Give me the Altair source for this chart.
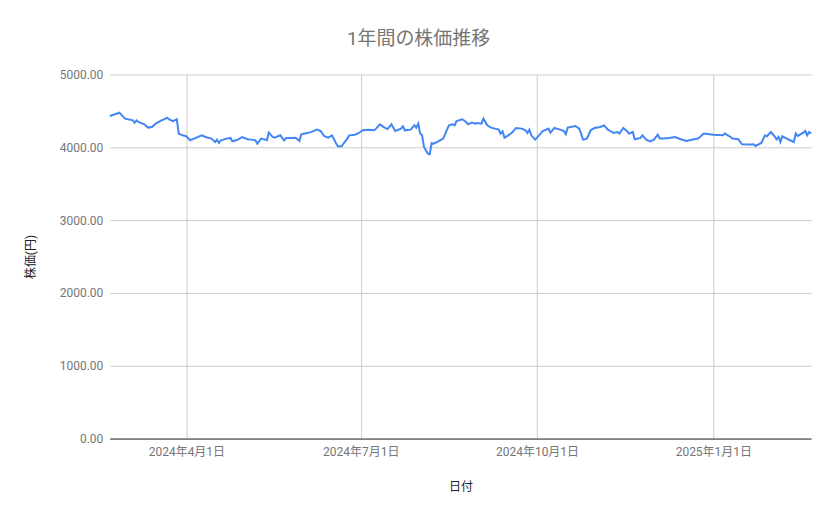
import altair as alt
import pandas as pd

dates = [
    "2024-02-21", "2024-02-26", "2024-02-29", "2024-03-04", "2024-03-05", "2024-03-06",
    "2024-03-07", "2024-03-10", "2024-03-12", "2024-03-14", "2024-03-16", "2024-03-19",
    "2024-03-20", "2024-03-22", "2024-03-23", "2024-03-25", "2024-03-27", "2024-03-28",
    "2024-03-30", "2024-04-01", "2024-04-03", "2024-04-05", "2024-04-09", "2024-04-11",
    "2024-04-14", "2024-04-16", "2024-04-17", "2024-04-18", "2024-04-19", "2024-04-22",
    "2024-04-24", "2024-04-25", "2024-04-28", "2024-04-30", "2024-05-03", "2024-05-05",
    "2024-05-07", "2024-05-08", "2024-05-10", "2024-05-12", "2024-05-13", "2024-05-14",
    "2024-05-16", "2024-05-17", "2024-05-20", "2024-05-22", "2024-05-23", "2024-05-26",
    "2024-05-28", "2024-05-30", "2024-05-31", "2024-06-03", "2024-06-04", "2024-06-06",
    "2024-06-08", "2024-06-10", "2024-06-12", "2024-06-14", "2024-06-16", "2024-06-18",
    "2024-06-19", "2024-06-21", "2024-06-22", "2024-06-24", "2024-06-25", "2024-06-28",
    "2024-06-30", "2024-07-02", "2024-07-05", "2024-07-08", "2024-07-09", "2024-07-11",
    "2024-07-13", "2024-07-15", "2024-07-17", "2024-07-19", "2024-07-22", "2024-07-23",
    "2024-07-24", "2024-07-27", "2024-07-29", "2024-07-30", "2024-07-31", "2024-08-01",
    "2024-08-02", "2024-08-03", "2024-08-05", "2024-08-06", "2024-08-07", "2024-08-08",
    "2024-08-10", "2024-08-13", "2024-08-16", "2024-08-18", "2024-08-19", "2024-08-20",
    "2024-08-23", "2024-08-25", "2024-08-26", "2024-08-28", "2024-08-30", "2024-08-31",
    "2024-09-02", "2024-09-03", "2024-09-05", "2024-09-07", "2024-09-09", "2024-09-11",
    "2024-09-12", "2024-09-13", "2024-09-14", "2024-09-16", "2024-09-18", "2024-09-20",
    "2024-09-23", "2024-09-25", "2024-09-26", "2024-09-27", "2024-09-28", "2024-09-30",
    "2024-10-01", "2024-10-04", "2024-10-07", "2024-10-08", "2024-10-10", "2024-10-13",
    "2024-10-15", "2024-10-16", "2024-10-17", "2024-10-21", "2024-10-23", "2024-10-24",
    "2024-10-25", "2024-10-27", "2024-10-29", "2024-10-31", "2024-11-03", "2024-11-05",
    "2024-11-07", "2024-11-09", "2024-11-10", "2024-11-12", "2024-11-13", "2024-11-15",
    "2024-11-17", "2024-11-18", "2024-11-20", "2024-11-21", "2024-11-24", "2024-11-25",
    "2024-11-27", "2024-11-29", "2024-12-01", "2024-12-03", "2024-12-04", "2024-12-06",
    "2024-12-09", "2024-12-12", "2024-12-15", "2024-12-18", "2024-12-22", "2024-12-24",
    "2024-12-25", "2024-12-27", "2025-01-01", "2025-01-06", "2025-01-07", "2025-01-10",
    "2025-01-11", "2025-01-14", "2025-01-16", "2025-01-20", "2025-01-22", "2025-01-23",
    "2025-01-26", "2025-01-28", "2025-01-29", "2025-01-31", "2025-02-02", "2025-02-03",
    "2025-02-04", "2025-02-05", "2025-02-06", "2025-02-09", "2025-02-12", "2025-02-13",
    "2025-02-14", "2025-02-17", "2025-02-18", "2025-02-19", "2025-02-20", "2025-02-21",
]

prices = [
    4430, 4475, 4393, 4370, 4338, 4370,
    4347, 4315, 4270, 4278, 4324, 4370,
    4379, 4406, 4384, 4360, 4384, 4188,
    4164, 4151, 4096, 4119, 4164, 4141,
    4119, 4073, 4105, 4059, 4096, 4119,
    4128, 4082, 4105, 4141, 4110, 4105,
    4096, 4050, 4119, 4105, 4096, 4201,
    4141, 4132, 4164, 4096, 4128, 4128,
    4132, 4087, 4178, 4196, 4201, 4219,
    4242, 4224, 4151, 4132, 4164, 4059,
    4014, 4014, 4050, 4119, 4164, 4173,
    4196, 4233, 4242, 4233, 4256, 4315,
    4278, 4250, 4315, 4224, 4256, 4288,
    4233, 4242, 4301, 4270, 4324, 4188,
    4164, 4005, 3913, 3904, 4059, 4050,
    4073, 4119, 4301, 4315, 4301, 4360,
    4384, 4347, 4315, 4338, 4324, 4333,
    4324, 4393, 4301, 4270, 4256, 4242,
    4188, 4219, 4132, 4164, 4201, 4265,
    4256, 4233, 4196, 4242, 4164, 4105,
    4132, 4224, 4256, 4201, 4265, 4242,
    4224, 4178, 4270, 4292, 4256, 4188,
    4105, 4119, 4233, 4265, 4278, 4301,
    4242, 4210, 4196, 4210, 4188, 4265,
    4219, 4188, 4210, 4110, 4128, 4164,
    4105, 4082, 4105, 4173, 4119, 4119,
    4128, 4141, 4110, 4087, 4110, 4119,
    4141, 4188, 4173, 4164, 4188, 4141,
    4119, 4110, 4041, 4037, 4041, 4018,
    4059, 4164, 4151, 4210, 4151, 4110,
    4141, 4073, 4151, 4110, 4073, 4188,
    4155, 4201, 4224, 4164, 4210, 4188,
]

y_ticks = [0, 1000, 2000, 3000, 4000, 5000]
x_ticks = [(2024, 4, 1), (2024, 7, 1), (2024, 10, 1), (2025, 1, 1)]

df = pd.DataFrame({"日付": dates, "株価": prices})

FONT = "Roboto, 'Noto Sans CJK JP', sans-serif"

chart = (
    alt.Chart(df)
    .mark_line(color="#4285F4", strokeWidth=2)
    .encode(
        x=alt.X(
            "日付:T",
            title="日付",
            scale=alt.Scale(
                type="utc",
                nice=False,
                domain=[
                    alt.DateTime(year=2024, month=2, date=21, utc=True),
                    alt.DateTime(year=2025, month=2, date=21, utc=True),
                ],
            ),
            axis=alt.Axis(
                values=[alt.DateTime(year=y, month=m, date=d, utc=True) for y, m, d in x_ticks],
                labelExpr="utcFormat(datum.value, '%Y年%-m月%-d日')",
                grid=True,
                gridColor="#cccccc",
                ticks=False,
                domainColor="#333333",
                labelColor="#757575",
                labelFontSize=12,
                labelPadding=8,
                titleColor="#222222",
                titleFontSize=12,
                titleFontWeight="normal",
                titlePadding=24,
            ),
        ),
        y=alt.Y(
            "株価:Q",
            title="株価(円)",
            scale=alt.Scale(domain=[0, 5000], nice=False),
            axis=alt.Axis(
                values=y_ticks,
                format=".2f",
                grid=True,
                gridColor="#cccccc",
                ticks=False,
                domain=False,
                labelColor="#757575",
                labelFontSize=12,
                labelPadding=7,
                titleColor="#222222",
                titleFontSize=12,
                titleFontWeight="normal",
                titlePadding=22,
            ),
        ),
    )
    .properties(
        width=703,
        height=365,
        autosize=alt.AutoSizeParams(type="none"),
        padding={"left": 102, "top": 66, "right": 20, "bottom": 72},
        title=alt.TitleParams(
            "1年間の株価推移",
            fontSize=19,
            fontWeight="normal",
            color="#757575",
            anchor="middle",
            dx=-42,
            offset=20,
        ),
    )
    .configure(font=FONT)
    .configure_view(stroke=None)
)

chart.save("out.html", embed_options={"renderer": "svg", "actions": False})
